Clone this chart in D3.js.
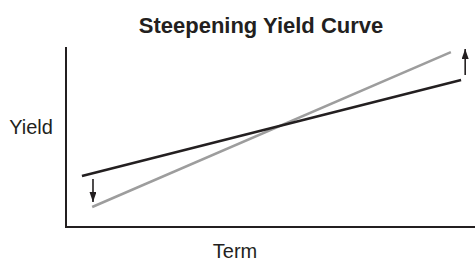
<!DOCTYPE html>
<html>
<head>
<meta charset="utf-8">
<script src="https://cdn.jsdelivr.net/npm/d3@7"></script>
<style>
  body { margin: 0; background: #fff; }
  svg { display: block; font-family: "Liberation Sans", Arial, Helvetica, sans-serif; }
</style>
</head>
<body>
<svg id="chart" width="475" height="261"></svg>
<script>
// curves: [term, yield] on a 0-100 conceptual scale
const before_curve = [[3.9, 28.3], [96.6, 81.7]];
const after_curve = [[6.4, 11.1], [94.1, 97.2]];
// shift arrows: [term, from, to]
const shift_arrows = [[6.6, 26.7, 13.9], [97.6, 84.4, 98.9]];

const svg = d3.select('#chart');

const x_scale = d3.scaleLinear().domain([0, 100]).range([66, 475]);
const y_scale = d3.scaleLinear().domain([0, 100]).range([227, 47]);

svg.append('defs')
  .append('marker')
  .attr('id', 'head')
  .attr('viewBox', '0 0 10 7')
  .attr('refX', 10)
  .attr('refY', 3.5)
  .attr('markerWidth', 10)
  .attr('markerHeight', 7)
  .attr('markerUnits', 'userSpaceOnUse')
  .attr('orient', 'auto')
  .append('path')
  .attr('d', 'M0,0 L10,3.5 L0,7 Z')
  .attr('fill', '#231f20');

const line = d3.line()
  .x(d => x_scale(d[0]))
  .y(d => y_scale(d[1]));

// axes
svg.append('line')
  .attr('x1', x_scale(0)).attr('x2', x_scale(0))
  .attr('y1', y_scale(100)).attr('y2', y_scale(0) + 1)
  .attr('stroke', '#231f20').attr('stroke-width', 2);

svg.append('line')
  .attr('x1', x_scale(0) - 1).attr('x2', x_scale(100))
  .attr('y1', y_scale(0)).attr('y2', y_scale(0))
  .attr('stroke', '#231f20').attr('stroke-width', 2);

svg.append('path')
  .datum(after_curve)
  .attr('d', line)
  .attr('fill', 'none')
  .attr('stroke', '#9d9d9d')
  .attr('stroke-width', 2.5);

svg.append('path')
  .datum(before_curve)
  .attr('d', line)
  .attr('fill', 'none')
  .attr('stroke', '#231f20')
  .attr('stroke-width', 2.5);

svg.selectAll('.arrow')
  .data(shift_arrows)
  .enter()
  .append('line')
  .attr('class', 'arrow')
  .attr('x1', d => x_scale(d[0]))
  .attr('x2', d => x_scale(d[0]))
  .attr('y1', d => y_scale(d[1]))
  .attr('y2', d => y_scale(d[2]))
  .attr('stroke', '#231f20')
  .attr('stroke-width', 1.6)
  .attr('marker-end', 'url(#head)');

// texts
svg.append('text')
  .text('Steepening Yield Curve')
  .attr('x', 261).attr('y', 33)
  .attr('text-anchor', 'middle')
  .attr('font-size', 22)
  .attr('font-weight', 'bold')
  .attr('fill', '#231f20');

svg.append('text')
  .text('Yield')
  .attr('x', 31).attr('y', 134)
  .attr('text-anchor', 'middle')
  .attr('font-size', 20)
  .attr('fill', '#231f20');

svg.append('text')
  .text('Term')
  .attr('x', 235).attr('y', 258)
  .attr('text-anchor', 'middle')
  .attr('font-size', 20)
  .attr('fill', '#231f20');
</script>
</body>
</html>
